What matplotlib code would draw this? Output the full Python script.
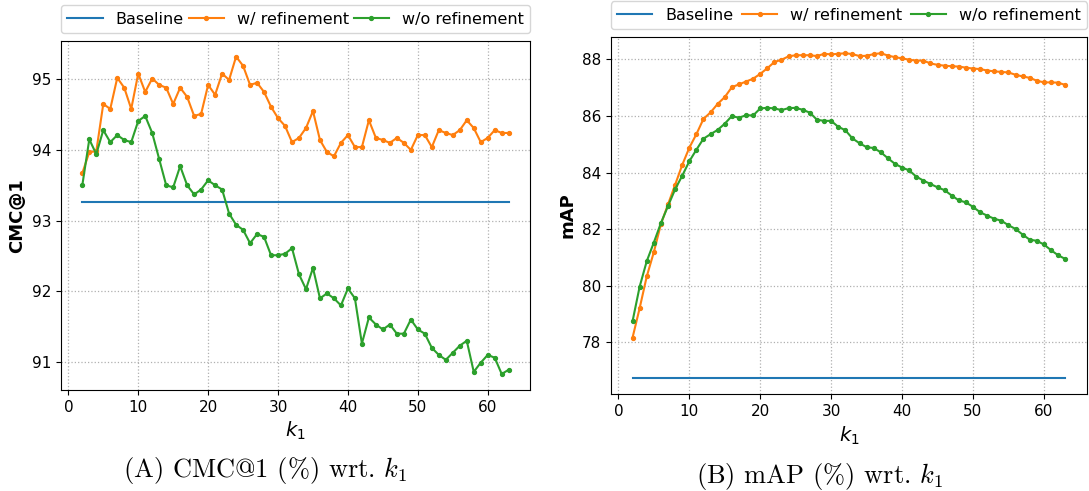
from matplotlib import pyplot as plt

plt.rcParams['mathtext.fontset'] = 'dejavusans'

# k1 values 2..63
k1 = list(range(2, 64))

# (A) CMC@1
cmc_baseline = 93.27
cmc_refine = [93.67, 93.97, 93.98, 94.65, 94.58, 95.02, 94.88, 94.58, 95.08, 94.82,
              95.01, 94.92, 94.88, 94.65, 94.88, 94.75, 94.48, 94.51, 94.92, 94.78,
              95.08, 94.99, 95.32, 95.19, 94.92, 94.95, 94.82, 94.61, 94.45, 94.34,
              94.11, 94.17, 94.31, 94.55, 94.14, 93.97, 93.91, 94.10, 94.21, 94.04,
              94.04, 94.42, 94.17, 94.14, 94.10, 94.17, 94.10, 94.00, 94.21, 94.21,
              94.04, 94.28, 94.24, 94.21, 94.28, 94.42, 94.31, 94.11, 94.17, 94.28,
              94.24, 94.24]
cmc_no_refine = [93.50, 94.15, 93.94, 94.28, 94.11, 94.21, 94.14, 94.11, 94.41, 94.48,
                 94.24, 93.87, 93.50, 93.47, 93.77, 93.50, 93.37, 93.44, 93.57, 93.50,
                 93.44, 93.10, 92.94, 92.87, 92.68, 92.81, 92.77, 92.51, 92.51, 92.53,
                 92.61, 92.24, 92.03, 92.33, 91.90, 91.97, 91.90, 91.80, 92.04, 91.90,
                 91.26, 91.63, 91.53, 91.46, 91.53, 91.40, 91.40, 91.60, 91.46, 91.40,
                 91.20, 91.10, 91.03, 91.13, 91.23, 91.30, 90.86, 90.99, 91.10, 91.06,
                 90.83, 90.89]

# (B) mAP
map_baseline = 76.75
map_refine = [78.17, 79.21, 80.33, 81.19, 82.18, 82.88, 83.57, 84.27, 84.88, 85.36,
              85.90, 86.13, 86.43, 86.67, 87.02, 87.12, 87.22, 87.32, 87.49, 87.69,
              87.91, 87.99, 88.11, 88.15, 88.15, 88.15, 88.12, 88.20, 88.18, 88.20,
              88.22, 88.19, 88.12, 88.13, 88.19, 88.22, 88.14, 88.08, 88.04, 87.99,
              87.96, 87.96, 87.86, 87.81, 87.78, 87.76, 87.75, 87.71, 87.68, 87.66,
              87.61, 87.58, 87.56, 87.54, 87.46, 87.40, 87.35, 87.25, 87.19, 87.19,
              87.18, 87.10]
map_no_refine = [78.75, 79.97, 80.87, 81.53, 82.22, 82.82, 83.41, 83.89, 84.40, 84.81,
                 85.20, 85.36, 85.51, 85.73, 86.00, 85.94, 86.03, 86.02, 86.27, 86.29,
                 86.27, 86.21, 86.28, 86.29, 86.22, 86.12, 85.87, 85.83, 85.83, 85.62,
                 85.50, 85.21, 85.04, 84.90, 84.87, 84.72, 84.51, 84.31, 84.18, 84.08,
                 83.86, 83.72, 83.60, 83.48, 83.38, 83.19, 83.02, 82.95, 82.79, 82.60,
                 82.48, 82.37, 82.30, 82.14, 82.01, 81.81, 81.63, 81.59, 81.46, 81.26,
                 81.08, 80.95]


def draw_panel(ax, baseline, refine, no_refine, ylabel):
    ax.plot([k1[0], k1[-1]], [baseline, baseline], color='tab:blue', lw=1.5, label='Baseline')
    ax.plot(k1, refine, color='tab:orange', marker='o', markersize=2.8, lw=1.5, label='w/ refinement')
    ax.plot(k1, no_refine, color='tab:green', marker='o', markersize=2.8, lw=1.5, label='w/o refinement')
    ax.grid(True, linestyle=':', color='#b0b0b0', lw=0.9)
    ax.set_xlabel('$k_1$', fontsize=14)
    ax.set_ylabel(ylabel, fontsize=13, fontweight='bold')
    ax.tick_params(labelsize=11)
    ax.set_xticks([0, 10, 20, 30, 40, 50, 60])
    ax.legend(loc='lower left', bbox_to_anchor=(0, 1.022, 1, 0.08), ncol=3,
              mode='expand', fontsize=11.5, borderaxespad=0, handlelength=2.2)


fig = plt.figure(figsize=(10.89, 4.91), dpi=100)

ax1 = fig.add_axes([0.056, 0.206, 0.4307, 0.711])
draw_panel(ax1, cmc_baseline, cmc_refine, cmc_no_refine, 'CMC@1')
ax1.set_yticks([91, 92, 93, 94, 95])

ax2 = fig.add_axes([0.561, 0.1976, 0.437, 0.727])
draw_panel(ax2, map_baseline, map_refine, map_no_refine, 'mAP')
ax2.set_yticks([78, 80, 82, 84, 86, 88])

# subfigure captions, centred on each half of the figure
cap_font = dict(fontsize=19, ha='center', va='center', family='cmr10', math_fontfamily='cm')
fig.text(265 / 1089, 1 - 470 / 491, r'(A) CMC@1 (%) wrt. $k_1$', **cap_font)
fig.text(819 / 1089, 1 - 477 / 491, r'(B) mAP (%) wrt. $k_1$', **cap_font)

plt.savefig('out.png', dpi=100)
